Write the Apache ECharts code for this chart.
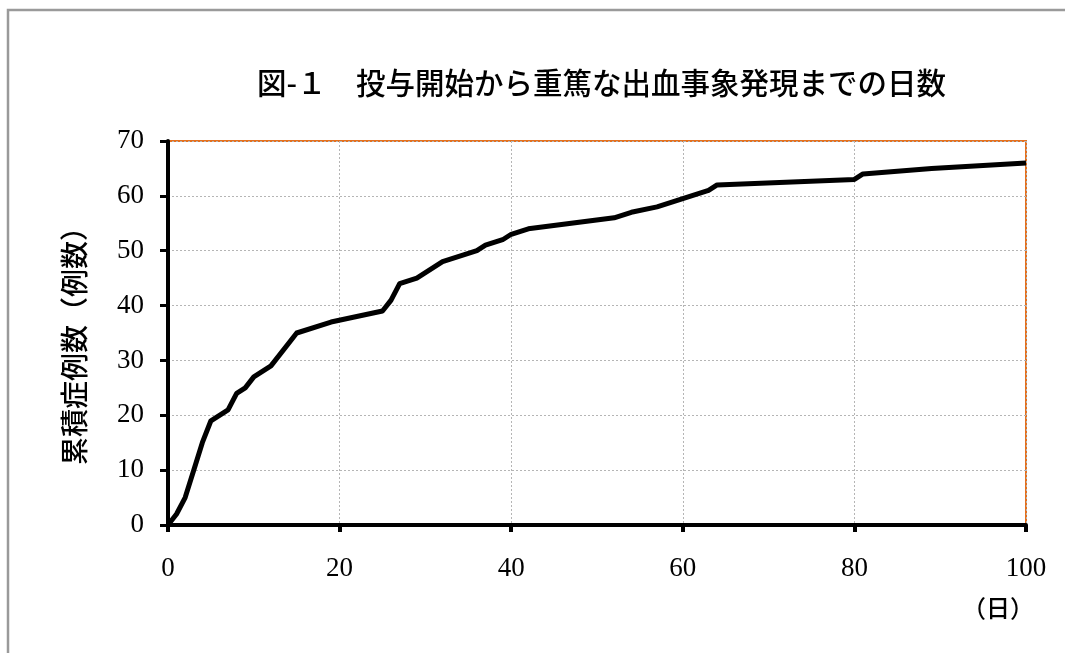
<!DOCTYPE html>
<html>
<head>
<meta charset="utf-8">
<script src="https://cdn.jsdelivr.net/npm/echarts@6/dist/echarts.min.js"></script>
<style>
  html, body { margin: 0; padding: 0; background: #fff; }
  #chart { width: 1065px; height: 653px; }
</style>
</head>
<body>
<div id="chart"></div>
<script>
// Days from start of dosing to onset of a serious bleeding event (cumulative cases)
const days = [0, 1, 2, 3, 4, 5, 7, 8, 9, 10, 12, 15, 19, 25, 26, 27, 29, 32, 36, 37, 39, 40, 42, 52, 54, 57, 59, 61, 63, 64, 80, 81, 89, 100];
const cumulativeCases = [0, 2, 5, 10, 15, 19, 21, 24, 25, 27, 29, 35, 37, 39, 41, 44, 45, 48, 50, 51, 52, 53, 54, 56, 57, 58, 59, 60, 61, 62, 63, 64, 65, 66];

const titleText = '図-１　投与開始から重篤な出血事象発現までの日数';
const yAxisTitle = '累積症例数（例数）';
const xAxisUnit = '（日）';

const serif = '"Liberation Serif", "DejaVu Serif", serif';
const cjk = '"Noto Sans CJK JP", sans-serif';

const chart = echarts.init(document.getElementById('chart'), null, { renderer: 'canvas' });

chart.setOption({
  animation: false,
  backgroundColor: '#fff',
  title: {
    text: titleText,
    left: 252,
    top: 63,
    textStyle: { fontFamily: cjk, fontSize: 29.5, fontWeight: 500, color: '#000' }
  },
  graphic: [
    {
      type: 'rect',
      shape: { x: 8, y: 10, width: 1100, height: 700 },
      style: { fill: 'none', stroke: '#9a9a9a', lineWidth: 2.5 },
      silent: true
    },
    {
      type: 'text',
      left: 962,
      top: 596,
      style: { text: xAxisUnit, font: '500 24px "Noto Sans CJK JP", sans-serif', fill: '#000' }
    }
  ],
  grid: {
    left: 168, right: 39, top: 141, bottom: 128,
    show: true,
    borderColor: '#e4701e',
    borderWidth: 2,
    backgroundColor: 'transparent'
  },
  xAxis: {
    type: 'value',
    min: 0, max: 100, interval: 20,
    axisLine: { show: true, onZero: false, lineStyle: { color: '#000', width: 4 } },
    axisTick: { show: true, inside: false, length: 7, lineStyle: { color: '#000', width: 4 } },
    axisLabel: { margin: 30, fontFamily: serif, fontSize: 27, color: '#000' },
    splitLine: { show: true, lineStyle: { color: '#b5b5b5', type: [2, 2], width: 1 } }
  },
  yAxis: {
    type: 'value',
    min: 0, max: 70, interval: 10,
    name: yAxisTitle,
    nameLocation: 'middle',
    nameRotate: 90,
    nameGap: 80,
    nameTextStyle: { fontFamily: cjk, fontSize: 28, fontWeight: 500, color: '#000', padding: [0, 0, 0, -12] },
    axisLine: { show: true, onZero: false, lineStyle: { color: '#000', width: 4 } },
    axisTick: { show: true, inside: false, length: 8, lineStyle: { color: '#000', width: 3 } },
    axisLabel: { margin: 24, fontFamily: serif, fontSize: 27, color: '#000' },
    splitLine: { show: true, lineStyle: { color: '#b5b5b5', type: [2, 2], width: 1 } }
  },
  series: [{
    type: 'line',
    data: days.map((d, i) => [d, cumulativeCases[i]]),
    showSymbol: false,
    symbol: 'none',
    lineStyle: { color: '#000', width: 5, join: 'round' },
    clip: false
  }]
});
</script>
</body>
</html>
